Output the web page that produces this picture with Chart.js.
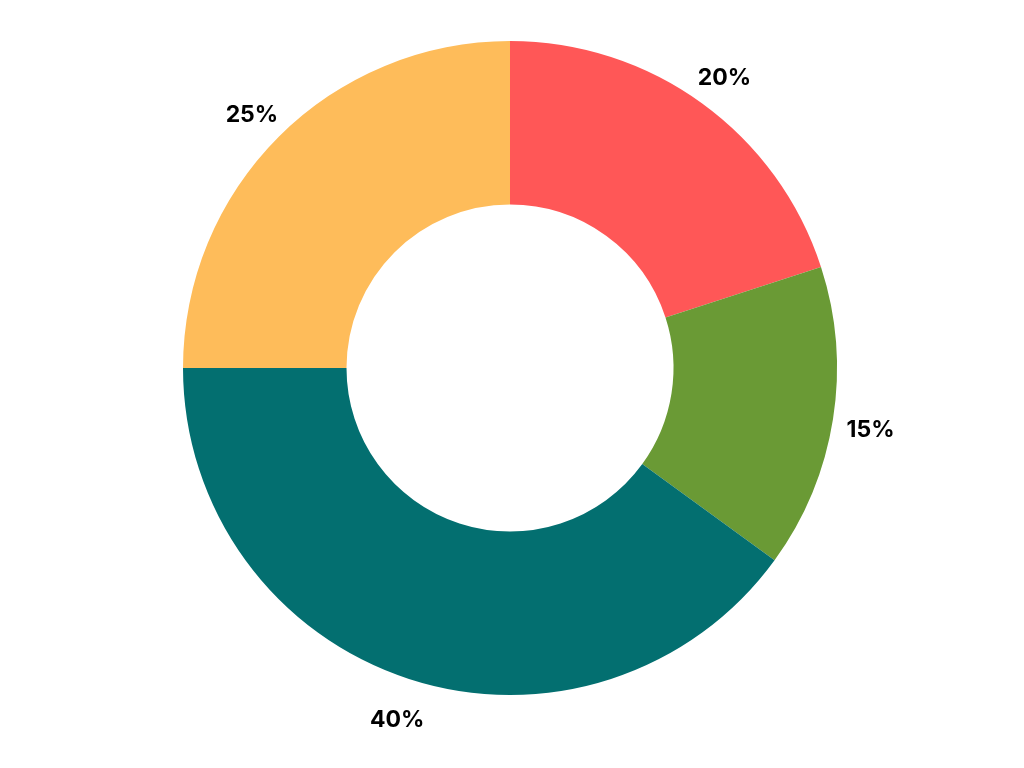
<!DOCTYPE html>
<html lang="en">
<head>
    <meta charset="UTF-8">
    <title>Doughnut</title>
    <script src="https://cdn.jsdelivr.net/npm/chart.js@4.4.0/dist/chart.umd.min.js"></script>
    <style>
        html, body { margin: 0; padding: 0; background: #ffffff; }
        #wrap { width: 1024px; height: 768px; }
    </style>
</head>
<body>
    <div id="wrap"><canvas id="chart"></canvas></div>

    <script>
        const labels = ['A', 'B', 'C', 'D'];
        const values = [20, 15, 40, 25];
        const valueLabels = ['20%', '15%', '40%', '25%'];
        const colors = ['#FF5757', '#6A9A35', '#036F70', '#FEBC5A'];

        // draws the percent text just outside each slice
        const outsideLabels = {
            id: 'outsideLabels',
            afterDatasetsDraw(chart) {
                const ctx = chart.ctx;
                const meta = chart.getDatasetMeta(0);
                ctx.save();
                ctx.font = 'bold 23px Inter, "Open Sans", sans-serif';
                ctx.fillStyle = '#000000';
                ctx.textAlign = 'center';
                ctx.textBaseline = 'middle';
                meta.data.forEach((arc, i) => {
                    const p = arc.getProps(['x', 'y', 'startAngle', 'endAngle', 'outerRadius'], true);
                    const mid = (p.startAngle + p.endAngle) / 2;
                    const r = p.outerRadius + 38;
                    ctx.fillText(valueLabels[i], p.x + Math.cos(mid) * r, p.y + Math.sin(mid) * r + 5);
                });
                ctx.restore();
            }
        };

        new Chart(document.getElementById('chart'), {
            type: 'doughnut',
            data: {
                labels: labels,
                datasets: [{
                    data: values,
                    backgroundColor: colors,
                    borderWidth: 0
                }]
            },
            options: {
                responsive: true,
                maintainAspectRatio: false,
                animation: false,
                cutout: '50%',
                layout: { padding: { left: 183, right: 187, top: 41, bottom: 73 } },
                plugins: {
                    legend: { display: false },
                    tooltip: { enabled: false }
                }
            },
            plugins: [outsideLabels]
        });
    </script>
</body>
</html>
